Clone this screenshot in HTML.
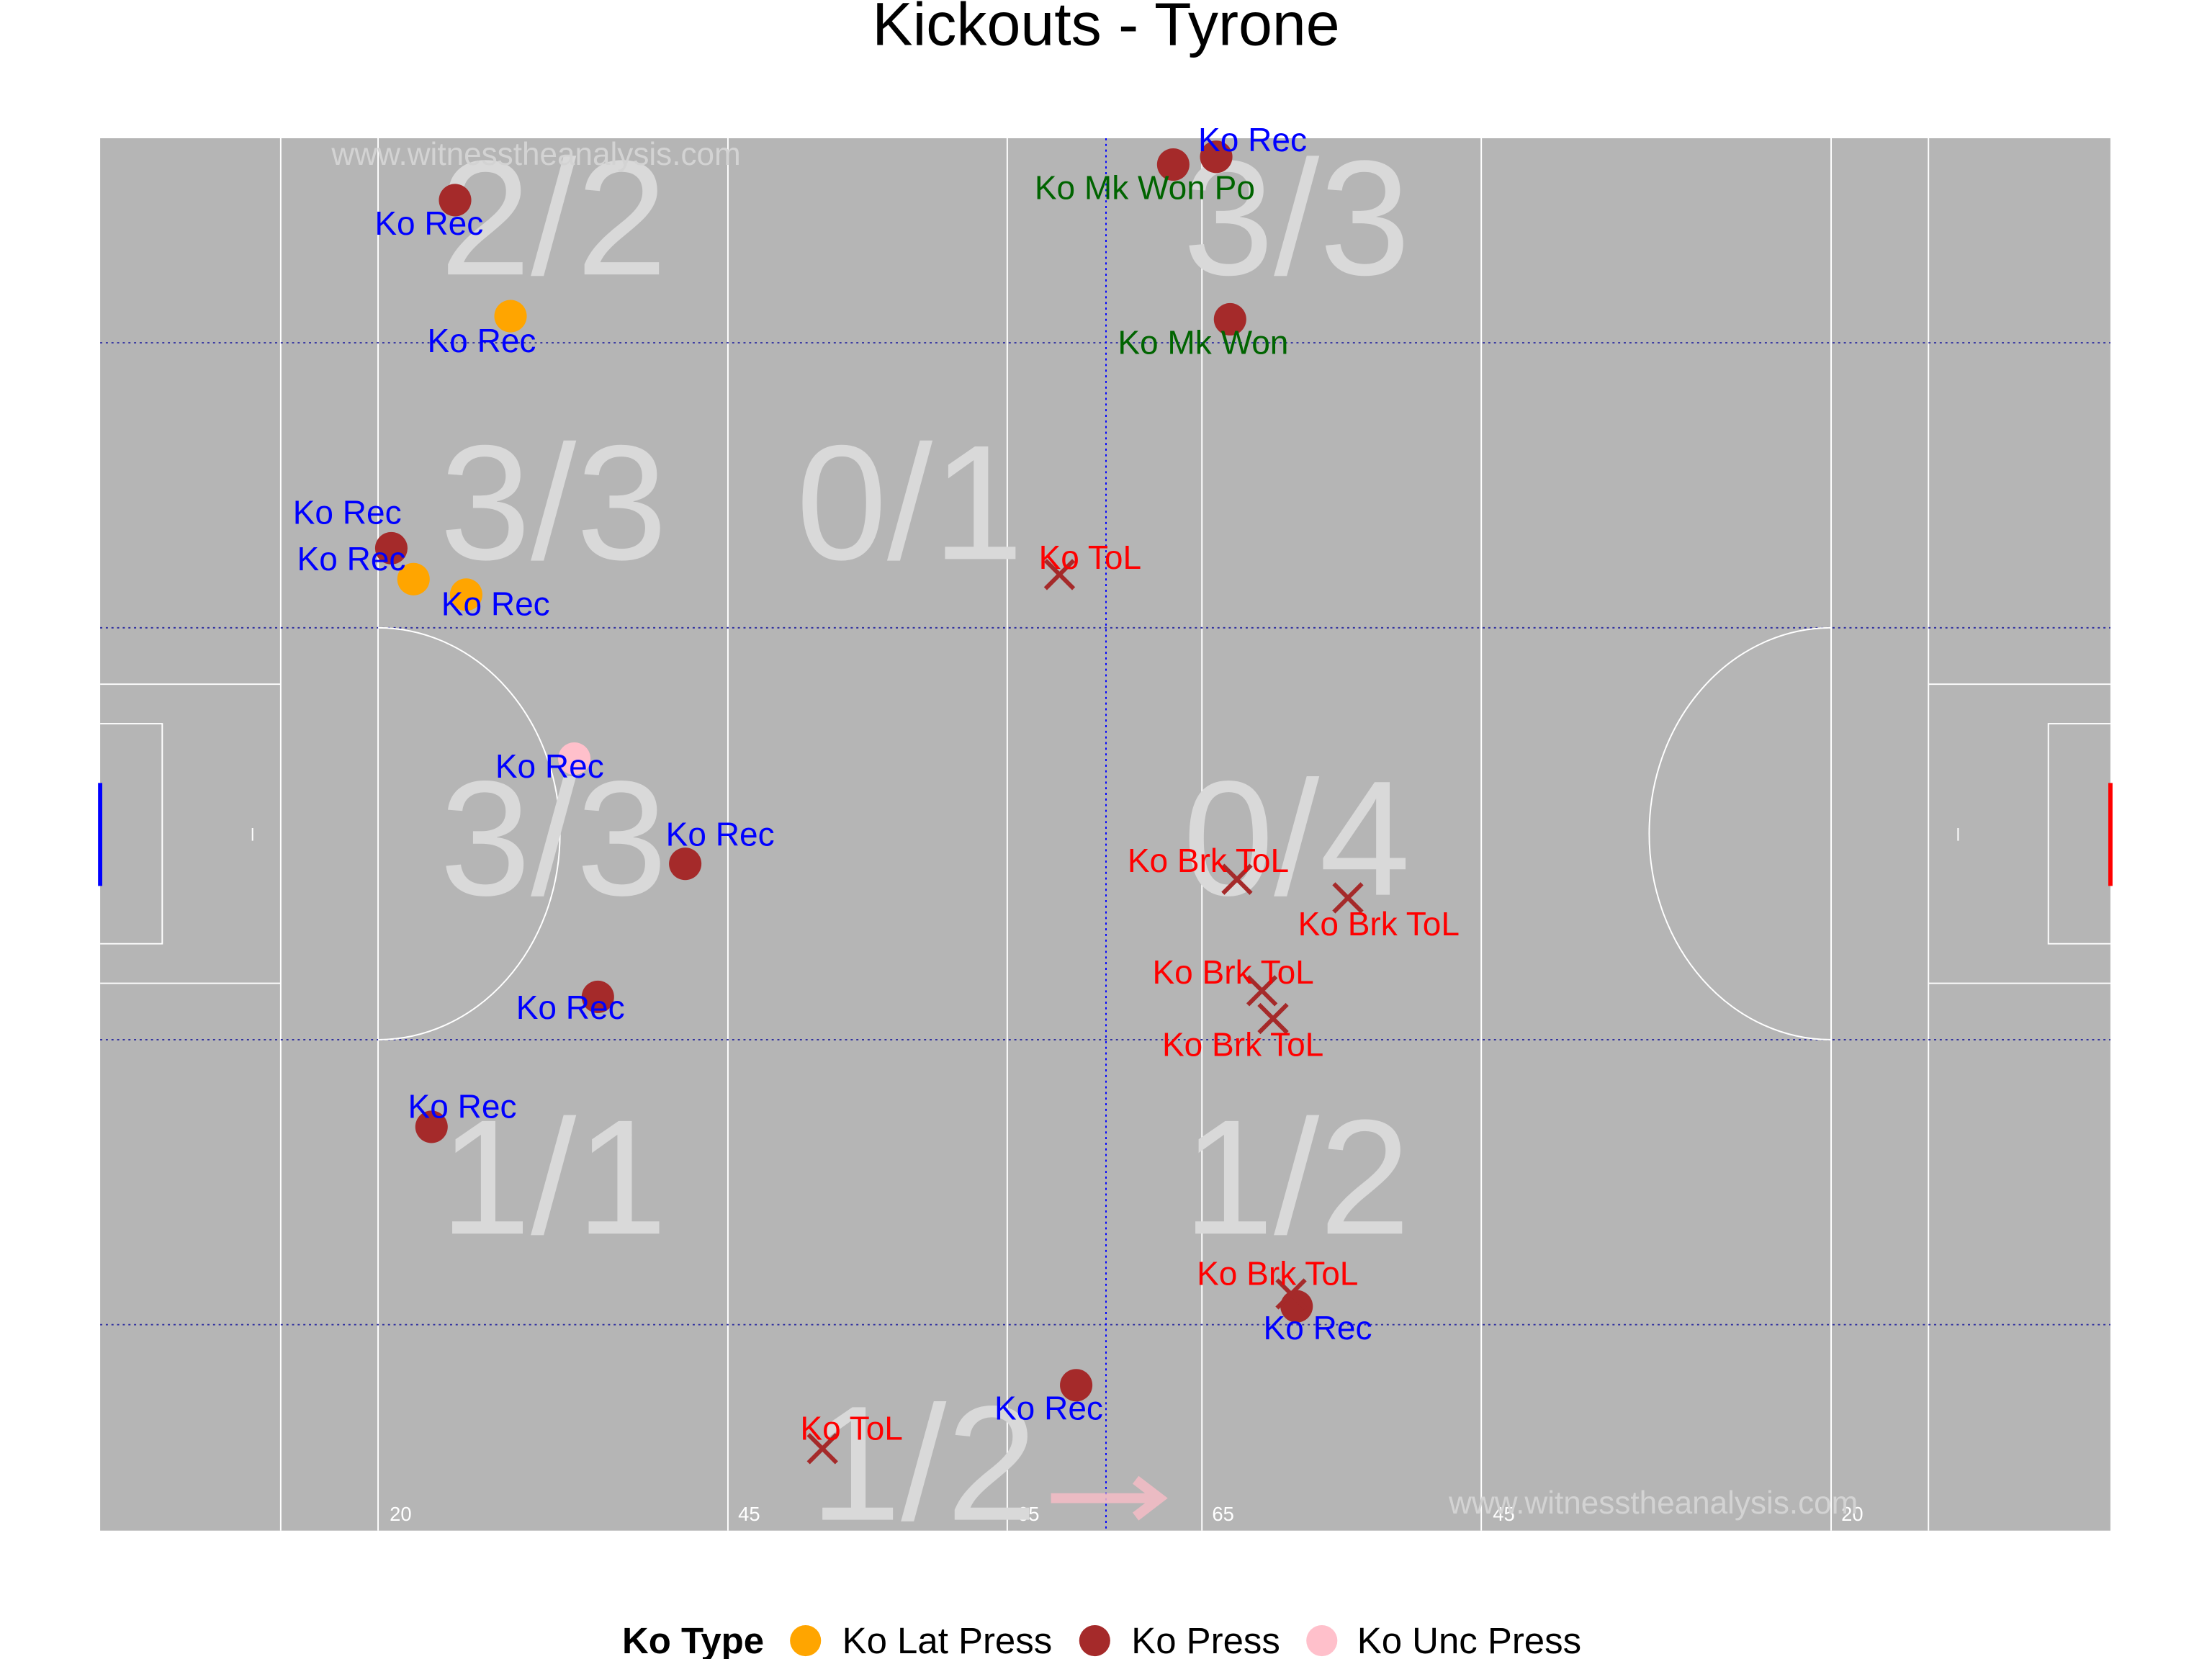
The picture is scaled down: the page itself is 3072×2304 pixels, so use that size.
<!DOCTYPE html>
<html><head><meta charset="utf-8"><style>
html,body{margin:0;padding:0;background:#fff}
svg{display:block}
text{font-family:"Liberation Sans",sans-serif}
</style></head><body>
<svg id="chart" width="3072" height="2304" viewBox="0 0 1568 1176" xmlns="http://www.w3.org/2000/svg">
<text x="784" y="32" font-size="43" text-anchor="middle" fill="#000">Kickouts - Tyrone</text>
<g id="pitch"></g>
<g id="zones"></g>
<g id="marks"></g>
<g id="labels"></g>
<g font-size="26">
<text x="441" y="1172" font-weight="bold">Ko Type</text>
<circle cx="571" cy="1163" r="11" fill="#FFA500"/>
<text x="597" y="1172">Ko Lat Press</text>
<circle cx="776" cy="1163" r="11" fill="#A52A2A"/>
<text x="802" y="1172">Ko Press</text>
<circle cx="937" cy="1163" r="11" fill="#FFC0CB"/>
<text x="962" y="1172">Ko Unc Press</text>
</g>
</svg>
<script>
// pitch metres: x 0..145, y 0..90 (y up)
const pressX=[25.6,77.4,80.5,81.5,21.0,42.2,35.9,23.9,86.3,70.4];
const pressY=[86.0,88.3,88.8,78.3,63.5,43.1,34.5,26.1,14.5,9.4];
const latX=[29.6,22.6,26.4];
const latY=[78.5,61.5,60.5];
const uncX=[34.2];
const uncY=[49.9];
const tolX=[69.2,82.0,90.0,83.8,84.6,85.9,52.1];
const tolY=[61.8,42.1,40.9,34.9,33.1,15.3,5.3];
const labelText=["Ko Rec","Ko Rec","Ko Rec","Ko Rec","Ko Rec","Ko Rec","Ko Rec","Ko Rec","Ko Rec","Ko Rec","Ko Rec","Ko Rec","Ko Mk Won Po","Ko Mk Won","Ko ToL","Ko Brk ToL","Ko Brk ToL","Ko Brk ToL","Ko Brk ToL","Ko Brk ToL","Ko ToL"];
const labelX=[19.8,23.6,13.9,14.2,24.6,28.5,40.8,30.0,22.2,79.2,83.9,64.5,67.4,73.4,67.7,74.1,86.4,75.9,76.6,79.1,50.5];
const labelY=[84.5,76.9,65.8,62.8,59.9,49.4,45.0,33.8,27.4,89.9,13.1,7.9,86.8,76.8,62.9,43.3,39.2,36.1,31.4,16.6,6.6];
const labelCol=["#0000FF","#0000FF","#0000FF","#0000FF","#0000FF","#0000FF","#0000FF","#0000FF","#0000FF","#0000FF","#0000FF","#0000FF","#006400","#006400","#FF0000","#FF0000","#FF0000","#FF0000","#FF0000","#FF0000","#FF0000"];
const zoneText=["2/2","3/3","3/3","0/1","3/3","0/4","1/1","1/2","1/2"];
const zoneX=[32.7,86.3,32.7,58.4,32.7,86.3,32.7,86.3,59.4];
const zoneY=[81.2,81.2,62.8,62.8,41.1,41.1,19.2,19.2,0.7];

const X0=71,X1=1496,Y0=98,Y1=1085;
const sx=m=>X0+m/145*(X1-X0);
const sy=m=>Y1-m/90*(Y1-Y0);
const NS="http://www.w3.org/2000/svg";
function mk(tag,attrs,parent){const e=document.createElementNS(NS,tag);for(const k in attrs)e.setAttribute(k,attrs[k]);parent.appendChild(e);return e;}
const pitch=document.getElementById('pitch');
let r=mk('rect',{x:X0,y:Y0,width:X1-X0,height:Y1-Y0,fill:'#b5b5b5'},pitch);


[199,268,516,714,852,1050,1298,1367].forEach(x=>{
 const l=mk('line',{x1:x,x2:x,y1:Y0,y2:Y1,stroke:'#fff','stroke-width':1},pitch);
 
 
});
const hd=[243,445,737,939];
hd.forEach(y=>{
 const l=mk('line',{x1:X0,x2:X1,y1:y,y2:y,stroke:'#3030a0','stroke-width':1,'stroke-dasharray':'1.5,2.5'},pitch);
 
 
});
let c=mk('line',{x1:784,x2:784,y1:Y0,y2:Y1,stroke:'#0000ff','stroke-width':1,'stroke-dasharray':'1.5,2.5'},pitch);


const g=`<path d="M71 485 H199 M71 697 H199 M71 513 H115 V669 H71 M1496 485 H1367 M1496 697 H1367 M1496 513 H1452 V669 H1496 M268 445 A129 146 0 0 1 268 737 M1298 445 A129 146 0 0 0 1298 737 M179 587 V596 M1388 587 V596" stroke="#fff" stroke-width="1" fill="none"/>
<line x1="71" y1="555" x2="71" y2="628" stroke="#0000ff" stroke-width="3"/>
<line x1="1496" y1="555" x2="1496" y2="628" stroke="#ff0000" stroke-width="3"/>`;
pitch.insertAdjacentHTML('beforeend',g);
[[284,"20"],[531,"45"],[729,"65"],[867,"65"],[1066,"45"],[1313,"20"]].forEach(([x,t])=>{
 const e=mk('text',{x:x,y:1078,'font-size':14,fill:'#fff','text-anchor':'middle'},pitch);e.textContent=t;
 
 
});
const zones=document.getElementById('zones');
zoneText.forEach((t,i)=>{
 const e=mk('text',{x:sx(zoneX[i]),y:sy(zoneY[i]),'font-size':116,fill:'#d9d9d9','text-anchor':'middle'},zones);e.textContent=t;
 
 
});
[[235,117],[1027,1073]].forEach(([x,y])=>{
 const e=mk('text',{x:x,y:y,'font-size':22.5,fill:'#d3d3d3'},zones);e.textContent="www.witnesstheanalysis.com";
 
 
});
zones.insertAdjacentHTML('beforeend','<path d="M745 1062 H820 M805 1049 L822 1062 L805 1075" stroke="#f4bcc6" stroke-width="7" fill="none" opacity="0.85"/>');
const marks=document.getElementById('marks');
function dots(xs,ys,col,name){xs.forEach((x,i)=>{const e=mk('circle',{cx:sx(x),cy:sy(ys[i]),r:11.5,fill:col},marks);
 
 });}
dots(pressX,pressY,'#A52A2A','press-point');
dots(latX,latY,'#FFA500','lat-press-point');
dots(uncX,uncY,'#FFC0CB','unc-press-point');
tolX.forEach((x,i)=>{const cx=sx(x),cy=sy(tolY[i]),d=10;
 const e=mk('path',{d:`M${cx-d} ${cy-d} L${cx+d} ${cy+d} M${cx+d} ${cy-d} L${cx-d} ${cy+d}`,stroke:'#A52A2A','stroke-width':3,fill:'none'},marks);
 
 });
const labels=document.getElementById('labels');
labelText.forEach((t,i)=>{const e=mk('text',{x:sx(labelX[i]),y:sy(labelY[i])+8,'font-size':23.5,fill:labelCol[i]},labels);e.textContent=t;
 
 });
</script>
</body></html>
